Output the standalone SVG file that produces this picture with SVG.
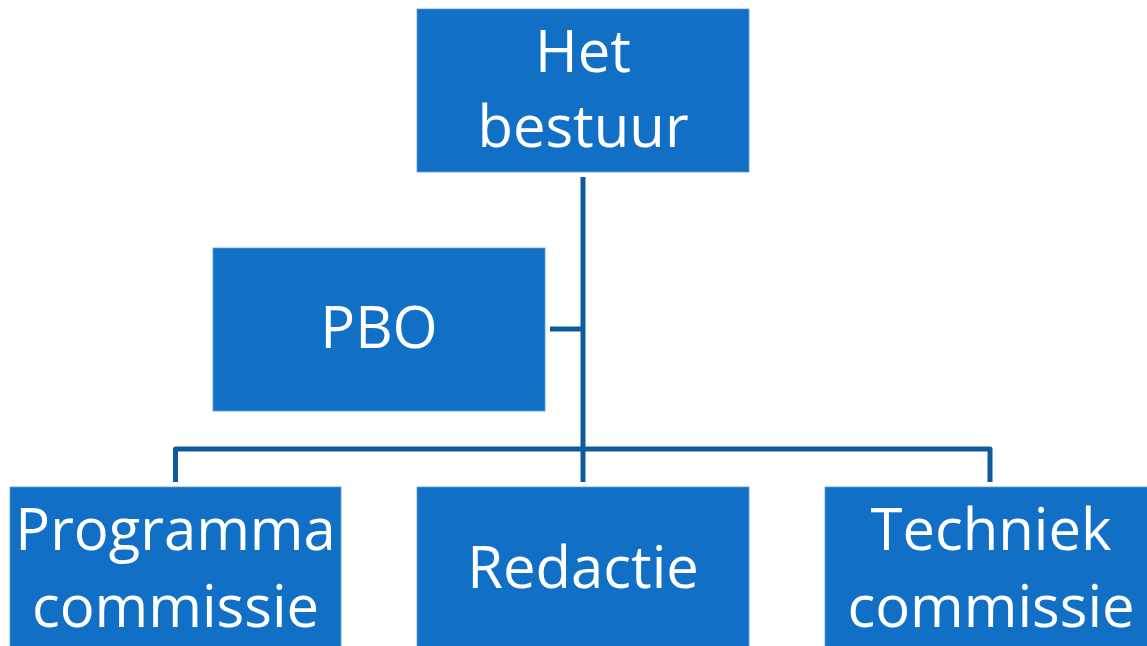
<svg xmlns="http://www.w3.org/2000/svg" width="1147" height="646" viewBox="0 0 1147 646">
<style>
.box{fill:#1170C6;stroke:#5B9BD5;stroke-width:0.8}
.t{font-family:"Open Sans","Noto Sans",sans-serif;font-size:58px;fill:#fff;text-anchor:middle}
.c{fill:none;stroke:#0F5A9C;stroke-width:5;stroke-linejoin:round}
</style>
<rect width="1147" height="646" fill="#fff"/>
<g id="connectors">
<line class="c" x1="583" y1="177" x2="583" y2="449"/>
<line class="c" x1="550" y1="329" x2="583" y2="329"/>
<polyline class="c" points="175.5,482 175.5,449 990,449 990,482"/>
<line class="c" x1="583" y1="449" x2="583" y2="482"/>
</g>
<g id="node-bestuur">
<rect class="box" x="417" y="9" width="332" height="163"/>
<text class="t" x="583" y="72">Het</text>
<text class="t" x="583" y="147">bestuur</text>
</g>
<g id="node-pbo">
<rect class="box" x="213" y="248" width="332" height="163"/>
<text class="t" x="379" y="348">PBO</text>
</g>
<g id="node-programma">
<rect class="box" x="10" y="487" width="331" height="170"/>
<text class="t" x="175.5" y="550">Programma</text>
<text class="t" x="175.5" y="627">commissie</text>
</g>
<g id="node-redactie">
<rect class="box" x="417" y="487" width="332" height="170"/>
<text class="t" x="583" y="588">Redactie</text>
</g>
<g id="node-techniek">
<rect class="box" x="825" y="487" width="332" height="170"/>
<text class="t" x="991" y="550">Techniek</text>
<text class="t" x="991" y="627">commissie</text>
</g>
</svg>
